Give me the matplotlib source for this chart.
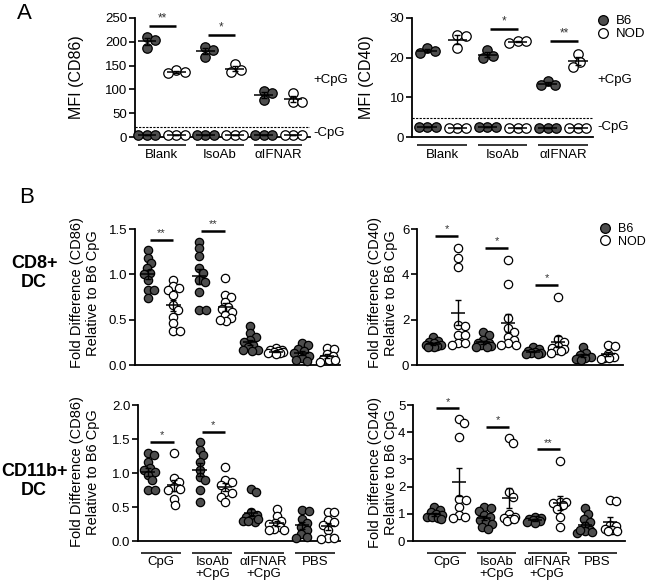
import numpy as np
import matplotlib
matplotlib.use('Agg')
import matplotlib.pyplot as plt
from matplotlib.lines import Line2D
from matplotlib.transforms import offset_copy

plt.rcParams['font.family'] = ['Liberation Sans', 'DejaVu Sans']
plt.rcParams['axes.unicode_minus'] = False

# ---------------- data : panel A ----------------
a_groups = ['Blank', 'IsoAb', 'αIFNAR']
a_cd86_b6_cpg = [[211, 204, 187], [190, 182, 168], [96, 92, 77]]
a_cd86_nod_cpg = [[141, 137, 134], [153, 140, 137], [92, 74, 74]]
a_cd86_b6_neg = [[5, 5, 5], [5, 5, 5], [5, 5, 5]]
a_cd86_nod_neg = [[5, 5, 5], [5, 5, 5], [5, 5, 5]]
a_cd86_cutoff = 20
a_cd86_sig = [(0, 234, '**'), (1, 215, '*')]

a_cd40_b6_cpg = [[22.4, 21.2, 21.6], [21.9, 20.0, 20.3], [14.2, 13.0, 13.2]]
a_cd40_nod_cpg = [[25.8, 25.5, 22.4], [24.3, 23.8, 24.1], [21.0, 19.0, 17.7]]
a_cd40_b6_neg = [[2.5, 2.5, 2.5], [2.5, 2.5, 2.5], [2.3, 2.3, 2.3]]
a_cd40_nod_neg = [[2.3, 2.3, 2.3], [2.3, 2.3, 2.3], [2.3, 2.3, 2.3]]
a_cd40_cutoff = 4.9
a_cd40_sig = [(1, 27.3, '*'), (2, 24.1, '**')]

# ---------------- data : panel B ----------------
b_groups = ['CpG', 'IsoAb\n+CpG', 'αIFNAR\n+CpG', 'PBS']

b_cd8_cd86_b6 = [
    [1.27, 1.18, 1.12, 1.07, 1.01, 1.00, 0.94, 0.83, 0.83, 0.74],
    [1.36, 1.29, 1.20, 1.07, 1.01, 0.94, 0.91, 0.81, 0.61, 0.61],
    [0.43, 0.35, 0.31, 0.28, 0.25, 0.22, 0.20, 0.17, 0.16, 0.15],
    [0.24, 0.22, 0.18, 0.15, 0.13, 0.10, 0.08, 0.06, 0.04],
]
b_cd8_cd86_nod = [
    [0.94, 0.87, 0.85, 0.83, 0.77, 0.66, 0.61, 0.53, 0.46, 0.37, 0.37],
    [0.96, 0.77, 0.75, 0.70, 0.64, 0.62, 0.59, 0.55, 0.52, 0.48, 0.50],
    [0.19, 0.17, 0.16, 0.15, 0.14, 0.14, 0.13, 0.13, 0.12],
    [0.19, 0.18, 0.12, 0.10, 0.07, 0.05, 0.05, 0.03],
]
b_cd8_cd86_sig = [(0, 1.38, '**'), (1, 1.48, '**')]

b_cd8_cd40_b6 = [
    [1.22, 1.05, 1.00, 0.95, 0.90, 0.88, 0.85, 0.82, 0.80, 0.78],
    [1.47, 1.33, 1.10, 0.98, 0.95, 0.90, 0.88, 0.82, 0.80, 0.78],
    [0.80, 0.70, 0.62, 0.58, 0.55, 0.52, 0.50, 0.48],
    [0.80, 0.55, 0.45, 0.37, 0.30, 0.25, 0.22],
]
b_cd8_cd40_nod = [
    [5.16, 4.72, 4.32, 1.77, 1.70, 1.33, 1.33, 0.96, 0.96, 0.88],
    [4.65, 3.58, 2.06, 1.62, 1.47, 1.25, 1.10, 0.95, 0.88, 0.88],
    [3.00, 1.15, 1.00, 0.85, 0.75, 0.70, 0.65, 0.55, 0.60],
    [0.88, 0.85, 0.50, 0.35, 0.30, 0.25, 0.30],
]
b_cd8_cd40_sig = [(0, 5.71, '*'), (1, 5.16, '*'), (2, 3.54, '*')]

b_cd11_cd86_b6 = [
    [1.29, 1.26, 1.16, 1.07, 1.04, 1.02, 0.97, 0.89, 0.75, 0.75],
    [1.46, 1.34, 1.26, 1.16, 1.04, 0.94, 0.89, 0.75, 0.57],
    [0.77, 0.72, 0.42, 0.38, 0.35, 0.33, 0.30, 0.28, 0.30, 0.33],
    [0.45, 0.44, 0.33, 0.26, 0.21, 0.16, 0.11, 0.06, 0.05],
]
b_cd11_cd86_nod = [
    [1.29, 0.92, 0.87, 0.80, 0.77, 0.75, 0.62, 0.53],
    [1.09, 0.89, 0.87, 0.82, 0.72, 0.70, 0.65, 0.57],
    [0.47, 0.37, 0.30, 0.27, 0.25, 0.20, 0.17, 0.16, 0.16],
    [0.43, 0.42, 0.31, 0.28, 0.24, 0.16, 0.05, 0.04, 0.03],
]
b_cd11_cd86_sig = [(0, 1.46, '*'), (1, 1.61, '*')]

b_cd11_cd40_b6 = [
    [1.25, 1.13, 1.05, 1.00, 0.95, 0.90, 0.88, 0.85, 0.82],
    [1.25, 1.20, 1.10, 0.95, 0.88, 0.76, 0.70, 0.64, 0.52, 0.45],
    [0.90, 0.85, 0.80, 0.78, 0.76, 0.74, 0.70, 0.68],
    [1.20, 1.00, 0.82, 0.70, 0.55, 0.40, 0.35, 0.33, 0.30, 0.40],
]
b_cd11_cd40_nod = [
    [4.47, 4.32, 3.83, 1.55, 1.50, 1.25, 0.95, 0.88, 0.85],
    [3.80, 3.60, 1.80, 1.60, 1.00, 0.90, 0.85, 0.80, 0.75, 0.80],
    [2.95, 1.44, 1.42, 1.38, 1.31, 1.19, 0.88, 0.52],
    [1.50, 1.48, 0.60, 0.55, 0.45, 0.40, 0.38, 0.35],
]
b_cd11_cd40_sig = [(0, 4.88, '*'), (1, 4.20, '*'), (2, 3.37, '**')]

# ---------------- figure ----------------
W, H = 649, 583
DPI = 100
fig = plt.figure(figsize=(W / DPI, H / DPI), dpi=DPI)
FILL = '#4d4d4d'
TICK_FS = 9.5


def ax_px(x0, y0, x1, y1):
    return fig.add_axes([x0 / W, 1 - y1 / H, (x1 - x0) / W, (y1 - y0) / H])


def style(ax, xlim, ylim, yticks):
    ax.set_xlim(*xlim)
    ax.set_ylim(*ylim)
    ax.set_yticks(yticks)
    for s in ['top', 'right']:
        ax.spines[s].set_visible(False)
    for s in ['left', 'bottom']:
        ax.spines[s].set_linewidth(1.3)
    ax.tick_params(axis='x', bottom=False, labelbottom=False)
    ax.tick_params(axis='y', direction='out', length=4, width=1.2,
                   labelsize=TICK_FS, pad=1.5)
    ax.patch.set_alpha(0)


def swarm_x(ax, xc, vals, ms, thr, maxoff):
    """Layout helper: horizontal jitter (in pixels) so circles do not pile up."""
    d = ms * DPI / 72.0 * thr
    T = ax.transData
    inv = T.inverted()
    vals = np.asarray(vals, dtype=float)
    xs = np.full(len(vals), float(xc))
    pts = []
    steps = int(maxoff / 0.5)
    offs = [0.0]
    for j in range(1, steps + 1):
        offs += [j * 0.5, -j * 0.5]
    for i in np.argsort(-vals, kind='stable'):
        cx, cy = T.transform((xc, vals[i]))
        best, bestd = cx, -1.0
        for off in offs:
            px = cx + off
            md = min([np.hypot(px - qx, cy - qy) for qx, qy in pts] + [1e9])
            if md >= d:
                best = px
                break
            if md > bestd + 1e-9:
                best, bestd = px, md
        pts.append((best, cy))
        xs[i] = inv.transform((best, cy))[0]
    return xs


def draw_group(ax, xc, vals, filled, ms, mhw, cap, thr, maxoff):
    vals = np.asarray(vals, dtype=float)
    xs = swarm_x(ax, xc, vals, ms, thr, maxoff)
    ax.plot(xs, vals, 'o', ms=ms, mfc=FILL if filled else 'white', mec='black',
            mew=0.9, ls='none', clip_on=False, zorder=3)
    m = vals.mean()
    se = vals.std(ddof=1) / np.sqrt(len(vals))
    ax.plot([xc - mhw, xc + mhw], [m, m], color='black', lw=1.1, zorder=4,
            clip_on=False, solid_capstyle='butt')
    ax.errorbar([xc], [m], yerr=[se], fmt='none', ecolor='black', elinewidth=1.0,
                capsize=cap, capthick=1.0, zorder=4, clip_on=False)


def draw_sig(ax, sig, fs=8):
    for g, y, lab in sig:
        x0, x1 = 2 * g + 0.08, 2 * g + 1.0
        ax.plot([x0, x1], [y, y], color='black', lw=1.8, clip_on=False,
                solid_capstyle='butt', zorder=4)
        tr = offset_copy(ax.transData, fig=fig, y=1.5, units='dots')
        ax.text((x0 + x1) / 2, y, lab, transform=tr, ha='center', va='bottom',
                fontsize=fs, color='#333333')


def group_labels(ax, groups, line_dy, text_dy, hw, fs=9.5):
    trl = offset_copy(ax.get_xaxis_transform(), fig=fig, y=-line_dy, units='dots')
    trt = offset_copy(ax.get_xaxis_transform(), fig=fig, y=-text_dy, units='dots')
    for g, lab in enumerate(groups):
        c = 2 * g + 0.5
        ax.plot([c - hw, c + hw], [0, 0], transform=trl, color='black', lw=1.1,
                clip_on=False, solid_capstyle='butt')
        ax.text(c, 0, lab, transform=trt, ha='center', va='top', fontsize=fs,
                linespacing=1.05)


def legend(handles_at, fs):
    x, y = handles_at
    hs = [Line2D([], [], marker='o', ls='none', ms=7, mfc=FILL, mec='black', mew=0.9),
          Line2D([], [], marker='o', ls='none', ms=7, mfc='white', mec='black', mew=0.9)]
    fig.legend(hs, ['B6', 'NOD'], loc='upper left', bbox_to_anchor=(x / W, 1 - y / H),
               frameon=False, handlelength=1.0, handletextpad=0.5, labelspacing=0.05,
               borderpad=0, borderaxespad=0, fontsize=fs)


# ---------------- panel A ----------------
MS_A = 6.8
axA1 = ax_px(135, 18, 310, 137)
style(axA1, (-0.41, 5.58), (0, 250), [0, 50, 100, 150, 200, 250])
axA2 = ax_px(412, 18, 593, 137)
style(axA2, (-0.5, 5.5), (0, 30), [0, 10, 20, 30])

for ax, b6c, nodc, b6n, nodn, cut, sig in [
        (axA1, a_cd86_b6_cpg, a_cd86_nod_cpg, a_cd86_b6_neg, a_cd86_nod_neg, a_cd86_cutoff, a_cd86_sig),
        (axA2, a_cd40_b6_cpg, a_cd40_nod_cpg, a_cd40_b6_neg, a_cd40_nod_neg, a_cd40_cutoff, a_cd40_sig)]:
    ax.axhline(cut, color='black', lw=0.8, ls=(0, (2.0, 1.2)), zorder=2)
    for g in range(len(a_groups)):
        for xc, vals, filled in [(2 * g, b6c[g], True), (2 * g + 1, nodc[g], False),
                                 (2 * g, b6n[g], True), (2 * g + 1, nodn[g], False)]:
            draw_group(ax, xc, vals, filled, MS_A, 0.32, 2.5, 0.88, 9.0)
    draw_sig(ax, sig, fs=8.5)
    group_labels(ax, a_groups, 8, 12, 0.82)

fig.text(313 / W, 1 - 80 / H, '+CpG', ha='left', va='center', fontsize=TICK_FS)
fig.text(313 / W, 1 - 133 / H, '-CpG', ha='left', va='center', fontsize=TICK_FS)
fig.text(597 / W, 1 - 80 / H, '+CpG', ha='left', va='center', fontsize=TICK_FS)
fig.text(597 / W, 1 - 127 / H, '-CpG', ha='left', va='center', fontsize=TICK_FS)

fig.text(77 / W, 1 - 77 / H, 'MFI (CD86)', rotation=90, ha='center', va='center', fontsize=11.5)
fig.text(367 / W, 1 - 77 / H, 'MFI (CD40)', rotation=90, ha='center', va='center', fontsize=11.5)
legend((596, 15), TICK_FS)

# ---------------- panel B ----------------
MS_B = 6.0
axB1 = ax_px(135, 229, 340, 365)
style(axB1, (-0.5, 7.5), (0, 1.5), [0.0, 0.5, 1.0, 1.5])
axB2 = ax_px(417, 229, 623, 365)
style(axB2, (-0.64, 7.6), (0, 6), [0, 2, 4, 6])
axB3 = ax_px(138, 405, 340, 541)
style(axB3, (-0.4, 7.47), (0, 2.0), [0.0, 0.5, 1.0, 1.5, 2.0])
axB4 = ax_px(413, 405, 625, 541)
style(axB4, (-0.84, 7.6), (0, 5), [0, 1, 2, 3, 4, 5])

for ax, b6, nod, sig in [(axB1, b_cd8_cd86_b6, b_cd8_cd86_nod, b_cd8_cd86_sig),
                         (axB2, b_cd8_cd40_b6, b_cd8_cd40_nod, b_cd8_cd40_sig),
                         (axB3, b_cd11_cd86_b6, b_cd11_cd86_nod, b_cd11_cd86_sig),
                         (axB4, b_cd11_cd40_b6, b_cd11_cd40_nod, b_cd11_cd40_sig)]:
    for g in range(len(b_groups)):
        draw_group(ax, 2 * g, b6[g], True, MS_B, 0.28, 2.5, 0.75, 7.5)
        draw_group(ax, 2 * g + 1, nod[g], False, MS_B, 0.28, 2.5, 0.75, 7.5)
    draw_sig(ax, sig, fs=8)

group_labels(axB3, b_groups, 12, 15, 0.78)
group_labels(axB4, b_groups, 12, 15, 0.78)

ylab86 = 'Fold Difference (CD86)\nRelative to B6 CpG'
ylab40 = 'Fold Difference (CD40)\nRelative to B6 CpG'
for x, y, s in [(85, 293, ylab86), (383, 293, ylab40), (85, 472, ylab86), (383, 472, ylab40)]:
    fig.text(x / W, 1 - y / H, s, rotation=90, ha='center', va='center',
             fontsize=10.5, linespacing=1.15)
legend((599, 223), 9)

fig.text(34 / W, 1 - 273 / H, 'CD8+\nDC', ha='center', va='center', fontsize=13,
         fontweight='bold', linespacing=1.15)
fig.text(34 / W, 1 - 481 / H, 'CD11b+\nDC', ha='center', va='center', fontsize=13,
         fontweight='bold', linespacing=1.15)

fig.text(17 / W, 1 - 3 / H, 'A', ha='left', va='top', fontsize=16)
fig.text(19 / W, 1 - 187 / H, 'B', ha='left', va='top', fontsize=16)

fig.savefig('out.png', dpi=DPI)
